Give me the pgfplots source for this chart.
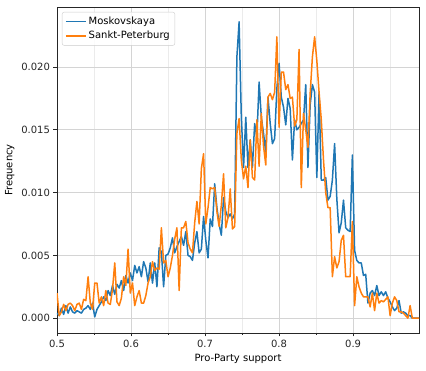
\documentclass[border=0pt]{standalone}
\usepackage{fontspec}
\setmainfont{DejaVu Sans}
\usepackage{pgfplots}
\usepackage{pgfplotstable}
\pgfplotsset{compat=1.18}
\definecolor{tabblue}{HTML}{1F77B4}
\definecolor{taborange}{HTML}{FF7F0E}
\pgfplotstableread{
x b o
0.500 0.0004 0.0020
0.503 0.0002 0.0002
0.506 0.0008 0.0005
0.509 0.0003 0.0011
0.512 0.0010 0.0006
0.515 0.0004 0.0011
0.518 0.0009 0.0012
0.521 0.0005 0.0010
0.524 0.0004 0.0006
0.527 0.0006 0.0011
0.530 0.0005 0.0012
0.533 0.0004 0.0007
0.536 0.0007 0.0015
0.539 0.0008 0.0014
0.542 0.0010 0.0033
0.545 0.0007 0.0012
0.548 0.0012 0.0007
0.551 0.0001 0.0028
0.554 0.0007 0.0028
0.557 0.0010 0.0012
0.560 0.0013 0.0017
0.563 0.0017 0.0010
0.566 0.0014 0.0022
0.569 0.0022 0.0012
0.572 0.0018 0.0011
0.575 0.0026 0.0023
0.578 0.0019 0.0044
0.581 0.0027 0.0013
0.584 0.0024 0.0010
0.587 0.0030 0.0016
0.590 0.0022 0.0033
0.593 0.0034 0.0026
0.596 0.0028 0.0055
0.599 0.0036 0.0020
0.602 0.0030 0.0028
0.605 0.0042 0.0010
0.608 0.0036 0.0017
0.611 0.0041 0.0022
0.614 0.0033 0.0012
0.617 0.0045 0.0012
0.620 0.0040 0.0018
0.623 0.0029 0.0028
0.626 0.0044 0.0033
0.629 0.0028 0.0045
0.632 0.0044 0.0038
0.635 0.0025 0.0040
0.638 0.0056 0.0039
0.641 0.0053 0.0072
0.644 0.0025 0.0044
0.647 0.0050 0.0046
0.650 0.0051 0.0033
0.653 0.0056 0.0040
0.656 0.0064 0.0050
0.659 0.0052 0.0063
0.662 0.0057 0.0072
0.665 0.0061 0.0022
0.668 0.0065 0.0072
0.671 0.0058 0.0072
0.674 0.0069 0.0077
0.677 0.0050 0.0060
0.680 0.0049 0.0055
0.683 0.0046 0.0052
0.686 0.0060 0.0076
0.689 0.0069 0.0093
0.692 0.0052 0.0075
0.695 0.0055 0.0119
0.698 0.0081 0.0131
0.701 0.0062 0.0075
0.704 0.0048 0.0088
0.707 0.0079 0.0104
0.710 0.0073 0.0103
0.713 0.0107 0.0104
0.716 0.0088 0.0085
0.719 0.0075 0.0073
0.722 0.0066 0.0090
0.725 0.0096 0.0115
0.728 0.0085 0.0072
0.731 0.0080 0.0080
0.734 0.0083 0.0103
0.737 0.0079 0.0071
0.740 0.0083 0.0073
0.743 0.0208 0.0147
0.746 0.0236 0.0159
0.749 0.0160 0.0126
0.752 0.0120 0.0111
0.755 0.0160 0.0121
0.758 0.0120 0.0104
0.761 0.0142 0.0142
0.764 0.0120 0.0112
0.767 0.0155 0.0110
0.770 0.0144 0.0158
0.773 0.0188 0.0121
0.776 0.0160 0.0163
0.779 0.0147 0.0137
0.782 0.0132 0.0122
0.785 0.0176 0.0176
0.788 0.0155 0.0179
0.791 0.0139 0.0174
0.794 0.0143 0.0180
0.797 0.0183 0.0224
0.800 0.0203 0.0152
0.803 0.0176 0.0196
0.806 0.0168 0.0196
0.809 0.0154 0.0182
0.812 0.0175 0.0186
0.815 0.0167 0.0175
0.818 0.0126 0.0176
0.821 0.0158 0.0153
0.824 0.0150 0.0158
0.827 0.0152 0.0214
0.830 0.0155 0.0104
0.833 0.0158 0.0163
0.836 0.0186 0.0150
0.839 0.0120 0.0136
0.842 0.0170 0.0179
0.845 0.0186 0.0208
0.848 0.0180 0.0224
0.851 0.0112 0.0205
0.854 0.0180 0.0180
0.857 0.0110 0.0158
0.860 0.0110 0.0126
0.863 0.0112 0.0100
0.866 0.0094 0.0088
0.869 0.0097 0.0088
0.872 0.0110 0.0033
0.875 0.0139 0.0049
0.878 0.0095 0.0040
0.881 0.0068 0.0045
0.884 0.0076 0.0062
0.887 0.0094 0.0066
0.890 0.0072 0.0033
0.893 0.0070 0.0033
0.896 0.0069 0.0033
0.899 0.0130 0.0077
0.902 0.0054 0.0010
0.905 0.0046 0.0033
0.908 0.0044 0.0025
0.911 0.0044 0.0020
0.914 0.0034 0.0017
0.917 0.0035 0.0017
0.920 0.0012 0.0017
0.923 0.0020 0.0009
0.926 0.0022 0.0020
0.929 0.0018 0.0006
0.932 0.0026 0.0020
0.935 0.0018 0.0012
0.938 0.0021 0.0014
0.941 0.0018 0.0013
0.944 0.0021 0.0015
0.947 0.0016 0.0017
0.950 0.0013 0.0002
0.953 0.0009 0.0012
0.956 0.0006 0.0017
0.959 0.0008 0.0014
0.962 0.0014 0.0005
0.965 0.0004 0.0005
0.968 0.0005 0.0004
0.971 0.0004 0.0002
0.974 0.0002 0.0000
0.977 0.0002 0.0010
0.980 0.0000 0.0000
0.983 0.0000 0.0000
0.986 0.0000 0.0000
0.989 0.0000 0.0000
}\datatable
\begin{document}
\begin{tikzpicture}
\useasboundingbox (-57pt,-38pt) rectangle (369pt,333pt);
\begin{axis}[
  at={(0,0)}, anchor=south west,
  width=362pt, height=326pt, scale only axis,
  xmin=0.5, xmax=0.989,
  ymin=-0.00118, ymax=0.02478,
  xtick={0.5,0.6,0.7,0.8,0.9},
  minor xtick={0.55,0.65,0.75,0.85,0.95},
  ytick={0,0.005,0.010,0.015,0.020},
  scaled y ticks=false,
  scaled x ticks=false,
  /pgf/number format/assume math mode=true,
  xticklabel style={/pgf/number format/.cd, fixed, precision=1},
  yticklabel style={/pgf/number format/.cd, fixed, fixed zerofill, precision=3},
  tick label style={font=\fontsize{10}{12}\selectfont, text=black!85},
  label style={font=\fontsize{10}{12}\selectfont},
  xlabel={Pro-Party support},
  ylabel={Frequency},
  tick align=outside,
  xtick pos=bottom, ytick pos=left,
  major tick length=3.5pt, minor tick length=2pt,
  every tick/.style={black!85, line width=0.8pt},
  axis line style={black!85, line width=0.8pt},
  grid=both,
  major grid style={draw=black!17, line width=0.8pt},
  minor grid style={draw=black!8, line width=0.8pt},
  legend cell align=left,
  legend style={at={(axis description cs:0,1)}, xshift=5pt, yshift=-5pt, anchor=north west,
    draw=black!20, rounded corners=2pt, fill=white, fill opacity=0.8, text opacity=1,
    font=\fontsize{10}{12}\selectfont, row sep=1pt, inner sep=3pt},
  legend image code/.code={\draw[#1, line width=1.5pt, draw opacity=1] (0pt,0pt) -- (20pt,0pt);},
]
\addplot[draw=tabblue, line width=1.5pt, line join=round] table[x=x, y=b] {\datatable};
\addlegendentry{Moskovskaya}
\addplot[draw=taborange, line width=1.5pt, line join=round] table[x=x, y=o] {\datatable};
\addlegendentry{Sankt-Peterburg}
\end{axis}
\end{tikzpicture}
\end{document}
